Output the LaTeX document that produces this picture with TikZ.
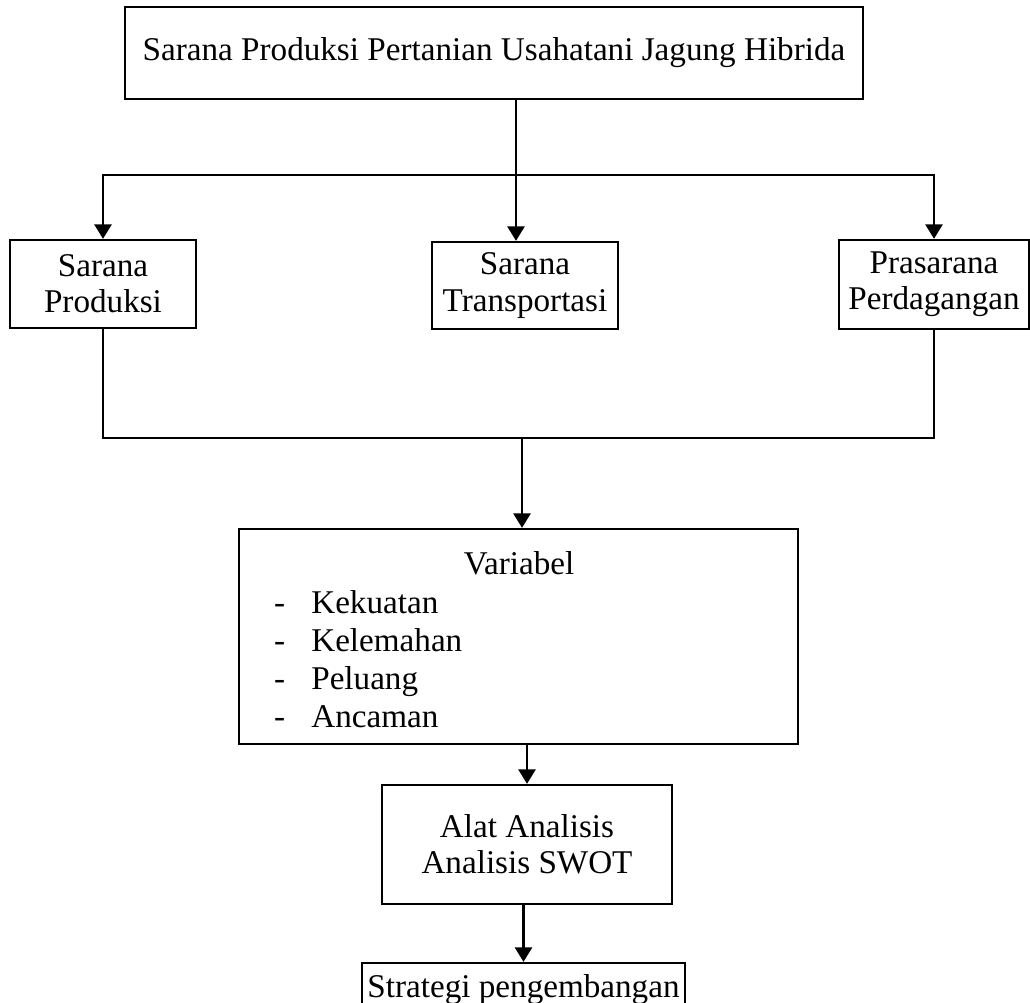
\documentclass[tikz,border=0pt]{standalone}
\usepackage{fontspec}
\setmainfont{Liberation Serif}
\usetikzlibrary{arrows.meta}
\newcommand{\unitpx}{0.383pt}

\begin{document}
\begin{tikzpicture}[x=0.383pt,y=-0.383pt,line width=0.9pt]
\tikzstyle{nodebox}=[draw,rectangle,inner sep=0pt,align=center,font=\fontsize{12.7}{13.9}\selectfont]
\tikzstyle{listtext}=[inner sep=0pt,anchor=base west,font=\fontsize{12.7}{13.9}\selectfont]
\tikzstyle{flowline}=[-{Triangle[width=6.5pt,length=5.5pt]}]
\useasboundingbox (0,0) rectangle (1030,1002);
\node[nodebox,minimum width=738*\unitpx,minimum height=92*\unitpx] (sarana) at (494,53) {Sarana Produksi Pertanian Usahatani Jagung Hibrida};
\node[nodebox,minimum width=186*\unitpx,minimum height=88*\unitpx] (produksi) at (103,284) {Sarana\\Produksi};
\node[nodebox,minimum width=186*\unitpx,minimum height=87*\unitpx] (transportasi) at (525,285.5) {Sarana\\Transportasi};
\node[nodebox,minimum width=190*\unitpx,minimum height=89*\unitpx] (perdagangan) at (934,284.5) {Prasarana\\Perdagangan};
\node[nodebox,minimum width=559*\unitpx,minimum height=215*\unitpx] (variabel) at (518.5,636.5) {};
\node[listtext,anchor=base] (judul) at (519,574) {Variabel};
\foreach \nama [count=\i] in {Kekuatan,Kelemahan,Peluang,Ancaman}
  \node[listtext] (item\i) at (273,575+38*\i) {-\hspace{10pt}\nama};
\node[nodebox,minimum width=290*\unitpx,minimum height=119*\unitpx] (alat) at (527,844.5) {Alat Analisis\\Analisis SWOT};
\node[nodebox,minimum width=323*\unitpx,minimum height=54*\unitpx] (strategi) at (523.5,990) {Strategi pengembangan};
% percabangan dan penggabungan
\coordinate (cabang) at (516,175);
\coordinate (gabung) at (522,438);
\draw[flowline] (sarana.south -| cabang) -- (transportasi.north -| cabang);
\draw[flowline] (cabang) -| (produksi.north);
\draw[flowline] (cabang) -| (perdagangan.north);
\draw (produksi.south) |- (gabung) -| (perdagangan.south);
\draw[flowline] (gabung) -- (variabel.north -| gabung);
\draw[flowline] (alat.north |- variabel.south) -- (alat.north);
\draw[flowline] (alat.south -| strategi.north) -- (strategi.north);
\end{tikzpicture}
\end{document}
